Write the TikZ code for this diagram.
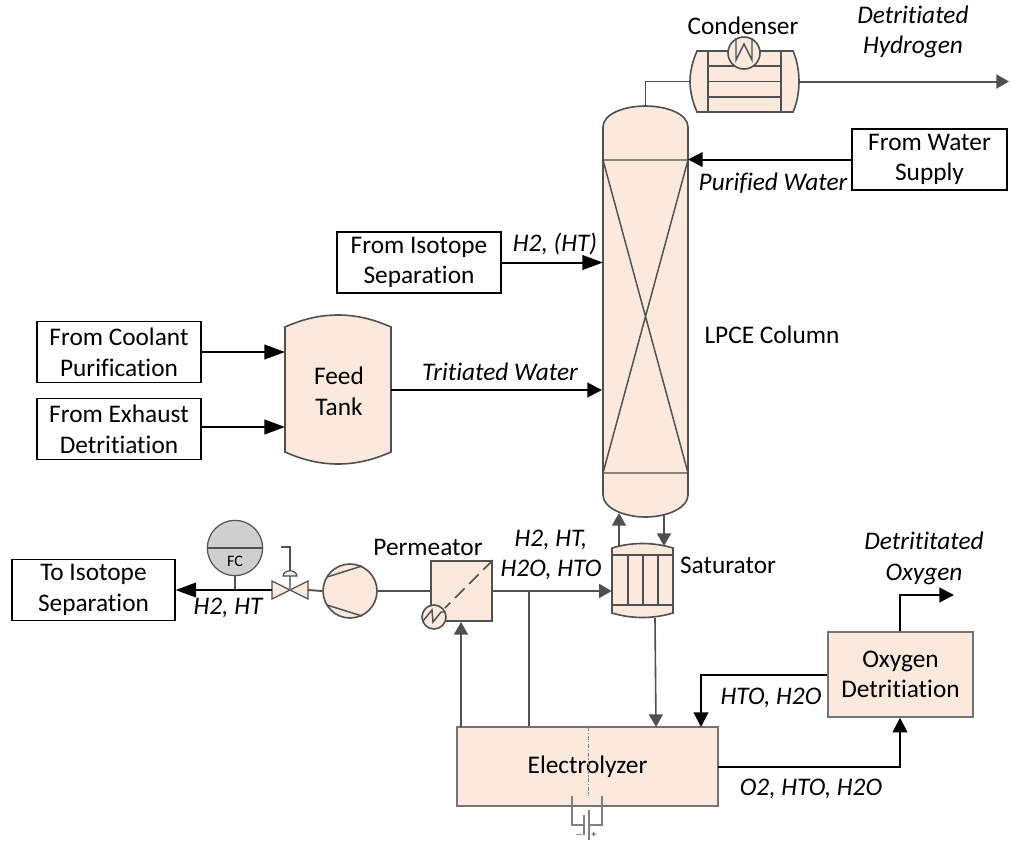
\documentclass[tikz,border=0pt]{standalone}
\usepackage{fontspec}
\setmainfont[Ligatures=NoCommon]{Carlito}
\usetikzlibrary{arrows.meta}
\definecolor{peach}{HTML}{FBE9DD}
\definecolor{steel}{HTML}{505050}
\tikzset{
  x=0.75pt,y=-0.75pt,
  txt/.style={font=\fontsize{19}{23}\selectfont,inner sep=0pt,align=center,text=black},
  itxt/.style={txt,font=\fontsize{19}{23}\selectfont\itshape},
  whitebox/.style={txt,draw=black,line width=1.1pt,fill=white,minimum width=123pt,minimum height=46pt},
  peachbox/.style={txt,draw=steel!80,line width=1.1pt,fill=peach},
  anchorbox/.style={inner sep=0pt,draw=none},
  vessel/.style={draw=steel,line width=1.2pt,fill=peach},
  inner/.style={draw=steel,line width=1.1pt},
  pipe/.style={draw=steel,line width=1.4pt},
  gflow/.style={draw=steel,line width=1.5pt,-{Triangle[length=9.5pt,width=10.5pt,fill=steel]}},
  kflow/.style={draw=black,line width=1.5pt,-{Triangle[length=15.5pt,width=11pt,fill=black]}},
  kshort/.style={draw=black,line width=1.5pt,-{Triangle[length=11pt,width=11pt,fill=black]}},
  wire/.style={draw=gray,line width=0.8pt},
}
\begin{document}
\begin{tikzpicture}
\useasboundingbox (0,0) rectangle (1011,840);
% ---- anchors for the drawn vessels
\node[anchorbox,minimum width=63.75pt,minimum height=310.5pt] (column) at (645.5,313.5) {};
\node[anchorbox,minimum width=79.5pt,minimum height=111.75pt] (tank) at (338,389.5) {};
\node[anchorbox,minimum width=81.75pt,minimum height=45.75pt] (condenser) at (744.5,81.5) {};
\node[anchorbox,minimum width=45.75pt,minimum height=56.25pt] (saturator) at (642.5,580.5) {};
\coordinate (valvec) at (290,590);
\coordinate (valvel) at (272,590);
\coordinate (valver) at (308,590);
% ---- column
\draw[vessel] (603,127) .. controls (603,114) and (624,106) .. (645.5,106) .. controls (667,106) and (688,114) .. (688,127)
  -- (688,495) .. controls (688,508) and (667,517) .. (645.5,517) .. controls (624,517) and (603,508) .. (603,495) -- cycle;
\draw[inner] (603,160) -- (688,160) (603,473) -- (688,473) (603,160) -- (688,473) (688,160) -- (603,473);
% ---- condenser
\draw[vessel] (697,51) -- (793,51) .. controls (797,60) and (799,71) .. (799,81.5) .. controls (799,92) and (797,103) .. (793,112)
  -- (697,112) .. controls (693,103) and (690,92) .. (690,81.5) .. controls (690,71) and (693,60) .. (697,51) -- cycle;
\draw[inner] (708,51) -- (708,112) (781,51) -- (781,112) (708,66) -- (781,66) (708,81.5) -- (781,81.5) (708,97) -- (781,97);
\draw[vessel] (744,53) circle[radius=12pt];
\draw[inner] (736,38) -- (736,60) -- (744,44) -- (752,60) -- (752,38);
% ---- tank
\draw[vessel] (285,327) .. controls (303,319) and (320,315) .. (338,315) .. controls (356,315) and (373,319) .. (391,327)
  -- (391,452) .. controls (373,460) and (356,464) .. (338,464) .. controls (320,464) and (303,460) .. (285,452) -- cycle;
\node[txt] (tanktext) at (339,391.5) {Feed\\Tank};
% ---- saturator
\draw[vessel] (612,548) .. controls (632,542) and (653,542) .. (673,548) -- (673,613) .. controls (653,619) and (632,619) .. (612,613) -- cycle;
\draw[inner] (612,555) -- (673,555) (612,605) -- (673,605) (628,555) -- (628,605) (643,555) -- (643,605) (658,555) -- (658,605);
% ---- white boxes
\node[whitebox,minimum width=116.5pt] (water) at (929.5,159.5) {From Water\\Supply};
\node[whitebox] (isosep) at (419,262.5) {From Isotope\\Separation};
\node[whitebox] (coolant) at (119,352) {From Coolant\\Purification};
\node[whitebox] (exhaust) at (119,429) {From Exhaust\\Detritiation};
\node[whitebox,minimum width=122pt] (toiso) at (93.5,590) {To Isotope\\Separation};
% ---- peach boxes
\node[peachbox,minimum width=195.75pt,minimum height=59.25pt] (electro) at (587.5,766.5) {Electrolyzer};
\node[peachbox,minimum width=108.75pt,minimum height=63.75pt] (oxy) at (900.5,674.5) {Oxygen\\Detritiation};
\node[vessel,rectangle,minimum width=45.75pt,minimum height=45pt,inner sep=0pt] (perm) at (461.5,591) {};
% ---- electrolyzer details
\draw[draw=gray,line width=0.7pt,dash pattern=on 3pt off 1.2pt on 1pt off 1.2pt] (588,727) -- (588,796);
\draw[wire] (572,796) -- (572,825) -- (584,825) (602,796) -- (602,825) -- (589,825);
\draw[wire] (584,815) -- (584,835) (589,810) -- (589,840);
\node[font=\fontsize{7}{8}\selectfont,inner sep=0pt] (minus) at (579,835) {$-$};
\node[font=\fontsize{7}{8}\selectfont,inner sep=0pt] (plus) at (594,835) {+};
% ---- permeator details
\draw[inner,dash pattern=on 10pt off 5pt] (perm.north east) -- (445,608);
\draw[vessel] (434,617) circle[radius=9pt];
\draw[inner] (423,621) -- (432,610) -- (433,622) -- (441,612) -- (445,612);
% ---- compressor
\node[vessel,circle,minimum size=40.5pt,inner sep=0pt] (comp) at (350,591) {};
\draw[inner] (327,577) -- (362,566) (327,605) -- (362,616);
% ---- valve
\draw[vessel,line width=0.9pt] (272,581) -- (308,599) -- (308,581) -- (272,599) -- cycle;
\draw[wire,line width=0.8pt] (valvec) -- (290,576);
\draw[vessel,line width=0.9pt] (283,576) .. controls (284,569) and (296,569) .. (297,576) -- cycle;
\draw[pipe,line width=1.5pt] (290,571) -- (290,547) -- (281,547);
% ---- flow controller
\node[draw=steel,line width=0.9pt,fill=gray!38,circle,minimum size=41.5pt,inner sep=0pt] (fc) at (235,548) {};
\draw[inner,line width=0.9pt] (fc.west) -- (fc.east);
\node[font=\fontsize{12}{13}\selectfont,inner sep=0pt] (fclabel) at (235,561.5) {FC};
\coordinate (fctap) at (235,590);
\draw[pipe] (fc.south) -- (fctap);
% ---- connectors: pipes and arrows
\coordinate (condin) at (645.5,81.5);
\draw[pipe,line width=1.1pt] (column.north) -- (condin) -- (condenser.west);
\coordinate (h2out) at (1009,81.5);
\draw[gflow] (condenser.east) -- (h2out);
\coordinate (wtin) at (688,159.5);
\draw[kshort] (water.west) -- (wtin);
\coordinate (isoin) at (603,262.5);
\draw[kflow] (isosep.east) -- (isoin);
\coordinate (coolin) at (285,352);
\draw[kflow] (coolant.east) -- (coolin);
\coordinate (exin) at (285,427);
\draw[kflow] (exhaust.east |- exin) -- (exin);
\coordinate (twout) at (391,390);
\coordinate (twin) at (602,390);
\draw[kshort] (twout) -- (twin);
\draw[kflow] (valvel) -- (toiso.east);
\draw[pipe] (valver) -- (comp.west);
\draw[pipe] (comp.east) -- (perm.west);
\draw[gflow] (perm.east) -- (perm.east -| saturator.west);
\coordinate (branch) at (529,591);
\draw[pipe] (branch) -- (branch |- electro.north);
\coordinate (permin) at (461,622);
\coordinate (elout) at (461,727);
\draw[gflow] (elout) -- (permin);
\coordinate (satup) at (619,547);
\coordinate (colup) at (619,513);
\draw[gflow] (satup) -- (colup);
\coordinate (coldn) at (664,514);
\coordinate (satdn) at (664,546);
\draw[gflow] (coldn) -- (satdn);
\coordinate (satout) at (655,618);
\coordinate (elin) at (656,727);
\draw[gflow,line width=1.2pt] (satout) -- (elin);
\coordinate (htoc) at (701,674.5);
\coordinate (htoe) at (701,727);
\draw[kshort] (oxy.west) -- (htoc) -- (htoe);
\coordinate (o2s) at (718,767);
\coordinate (o2c) at (900,767);
\draw[kshort] (o2s) -- (o2c) -- (oxy.south -| o2c);
\coordinate (oxc) at (900,595);
\coordinate (oxe) at (954,595);
\draw[kshort] (oxy.north -| oxc) -- (oxc) -- (oxe);
% ---- labels
\node[txt] (lcond) at (743,26) {Condenser};
\node[itxt] (ldh) at (913,32) {Detritiated\\Hydrogen};
\node[itxt] (lpw) at (773,183) {Purified Water};
\node[itxt] (lhht) at (555,244) {H2, (HT)};
\node[itxt] (ltw) at (500,372) {Tritiated Water};
\node[txt] (llpce) at (772,335) {LPCE Column};
\node[itxt] (lh2ht) at (228,608) {H2, HT};
\node[txt] (lperm) at (428,547) {Permeator};
\node[itxt] (lmix) at (551,555) {H2, HT,\\H2O, HTO};
\node[txt] (lsat) at (728,565) {Saturator};
\node[itxt] (ldo) at (924,558.5) {Detrititated\\Oxygen};
\node[itxt] (lhto) at (771,698) {HTO, H2O};
\node[itxt] (lo2) at (811,789) {O2, HTO, H2O};
\end{tikzpicture}
\end{document}
